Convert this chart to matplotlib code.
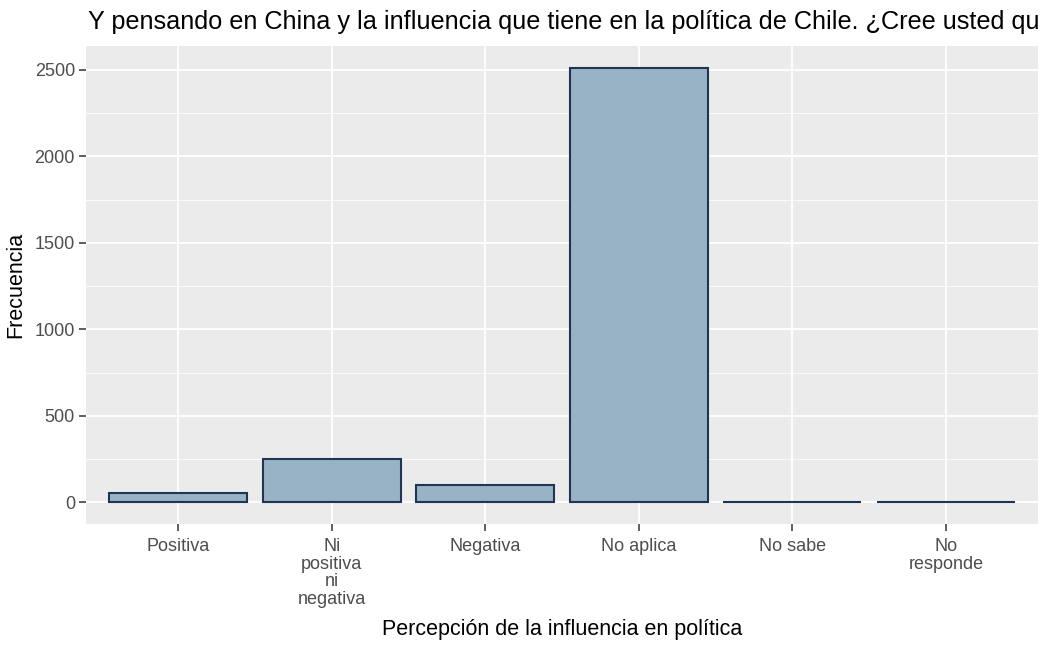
#!/usr/bin/env python3
"""Bar chart of perceived Chinese influence in Chilean politics."""
import numpy as np
import matplotlib.pyplot as plt
from matplotlib.ticker import MultipleLocator

plt.rcParams['font.family'] = ['Liberation Sans', 'DejaVu Sans']

categorias = ['Positiva', 'Ni\npositiva\nni\nnegativa', 'Negativa',
              'No aplica', 'No sabe', 'No\nresponde']
frecuencia = [56, 253, 102, 2512, 4, 3]
# the reference title runs past the right edge; keep the visible part
titulo = ('Y pensando en China y la influencia que tiene en la política de Chile. '
          '¿Cree usted qu')

fig = plt.figure(figsize=(10.5, 6.48), dpi=100)
ax = fig.add_axes([86 / 1050, 1 - 524 / 648, 952 / 1050, 478 / 648])

x = np.arange(1, len(categorias) + 1)
ax.bar(x, frecuencia, 0.9, color='#99b3c6', edgecolor='#1f3552',
       linewidth=1.5, zorder=3)

ax.set_facecolor('#ebebeb')
ax.set_xlim(0.4, 6.6)
top = max(frecuencia) * 1.05
ax.set_ylim(-max(frecuencia) * 0.05, top)
ax.yaxis.set_major_locator(MultipleLocator(500))
ax.yaxis.set_minor_locator(MultipleLocator(250))
ax.grid(which='major', color='white', linewidth=1.3, zorder=0)
ax.grid(which='minor', axis='y', color='white', linewidth=0.6, zorder=0)
ax.tick_params(which='minor', length=0)
ax.set_xticks(x)
ax.set_xticklabels(categorias, linespacing=1.05)
ax.tick_params(axis='both', labelsize=13, labelcolor='#4d4d4d',
               color='#333333', length=5, width=1.1, pad=3)
ax.tick_params(axis='x', pad=5)
for s in ax.spines.values():
    s.set_visible(False)

ax.set_xlabel('Percepción de la influencia en política', fontsize=15.5,
              labelpad=8)
ax.set_ylabel('Frecuencia', fontsize=15.5, labelpad=6)
fig.text(88 / 1050, 1 - 22 / 648, titulo, fontsize=18.2, ha='left',
         va='center')

fig.savefig('out.png', dpi=100)
